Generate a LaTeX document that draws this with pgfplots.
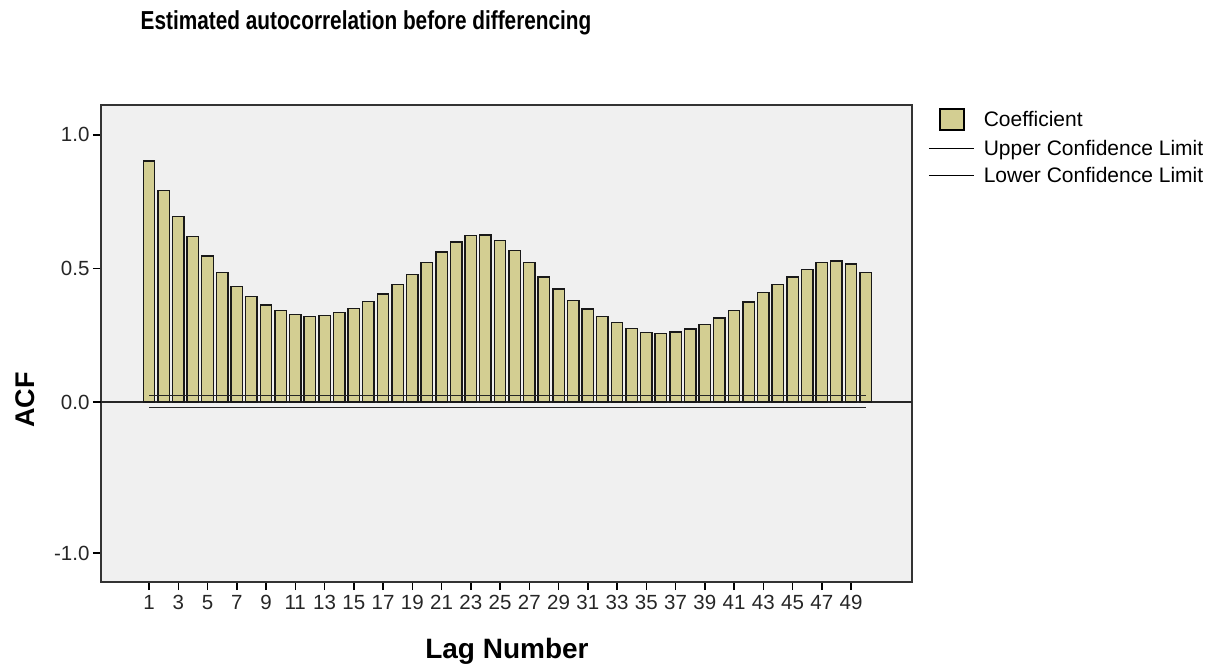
\documentclass[border=0pt]{standalone}
\usepackage{pgfplots}
\pgfplotsset{compat=1.18}
\usepackage{fontspec}
\setmainfont{Liberation Sans}
\definecolor{barcol}{RGB}{211,206,146}
\definecolor{bgcol}{RGB}{240,240,240}
\begin{document}
\begin{tikzpicture}
\useasboundingbox (0,0) rectangle (1225pt,666pt);
\begin{axis}[
  at={(101pt,84pt)}, anchor=south west,
  scale only axis, width=811pt, height=477pt,
  xmin=-2.282, xmax=53.17,
  ymin=-0.674, ymax=1.112,
  axis background/.style={fill=bgcol},
  axis line style={draw=black!80, line width=1.5pt},
  tick align=outside, tick pos=left,
  major tick length=8pt,
  tick style={black, line width=1.5pt},
  xtick={1,3,...,49},
  ytick={-0.5655,0.5,1},
  yticklabels={-1.0,0.5,1.0},
  extra y ticks={0},
  extra y tick labels={0.0},
  extra y tick style={ymajorgrids=true, major grid style={draw=black!85, line width=1.5pt}},
  /pgf/number format/assume math mode=true,
  ticklabel style={font=\fontsize{20.5}{24}\selectfont, text=black!85},
  xticklabel style={yshift=-2pt},
  title={\scalebox{0.8}[1]{Estimated autocorrelation before differencing}},
  title style={at={(axis description cs:0.3268,1.145)}, anchor=base, font=\fontsize{26}{30}\selectfont\bfseries},
  xlabel={Lag Number},
  xlabel style={at={(axis description cs:0.5006,-0.161)}, anchor=base, font=\fontsize{28}{32}\selectfont\bfseries},
  ylabel={ACF},
  ylabel style={at={(axis description cs:-0.0814,0.3816)}, anchor=base, rotate=0, font=\fontsize{27}{31}\selectfont\bfseries},
  legend style={at={(axis description cs:1.0197,0.9937)}, anchor=north west, draw=none, fill=none,
    font=\fontsize{21}{24}\selectfont, row sep=8.5pt, column sep=8pt, inner sep=0pt,
    nodes={inner sep=1pt}},
  legend cell align=left,
]
\addplot[ybar, bar width=0.78, fill=barcol, draw=black!90, line width=1.4pt,
  legend image code/.code={\draw[black, line width=1.4pt, fill=barcol] (11pt,-10.5pt) rectangle (35pt,10.5pt);}]
coordinates {
(1,0.903) (2,0.791) (3,0.694) (4,0.619) (5,0.547) (6,0.484) (7,0.432) (8,0.394) (9,0.363) (10,0.342)
(11,0.328) (12,0.320) (13,0.324) (14,0.336) (15,0.351) (16,0.377) (17,0.404) (18,0.439) (19,0.478) (20,0.522)
(21,0.562) (22,0.599) (23,0.623) (24,0.625) (25,0.605) (26,0.567) (27,0.522) (28,0.468) (29,0.423) (30,0.379)
(31,0.348) (32,0.321) (33,0.297) (34,0.275) (35,0.261) (36,0.257) (37,0.262) (38,0.273) (39,0.291) (40,0.315)
(41,0.343) (42,0.375) (43,0.409) (44,0.441) (45,0.468) (46,0.497) (47,0.522) (48,0.528) (49,0.516) (50,0.484)
};
\addlegendentry{Coefficient}
\addplot[draw=black!85, line width=1.6pt, no marks,
  legend image code/.code={\draw[black, line width=1.6pt] (0pt,0pt) -- (45pt,0pt);}]
coordinates {(1,0.024) (50,0.024)};
\addlegendentry{Upper Confidence Limit}
\addplot[draw=black!85, line width=1.6pt, no marks,
  legend image code/.code={\draw[black, line width=1.6pt] (0pt,0pt) -- (45pt,0pt);}]
coordinates {(1,-0.021) (50,-0.021)};
\addlegendentry{Lower Confidence Limit}
\end{axis}
\end{tikzpicture}
\end{document}
